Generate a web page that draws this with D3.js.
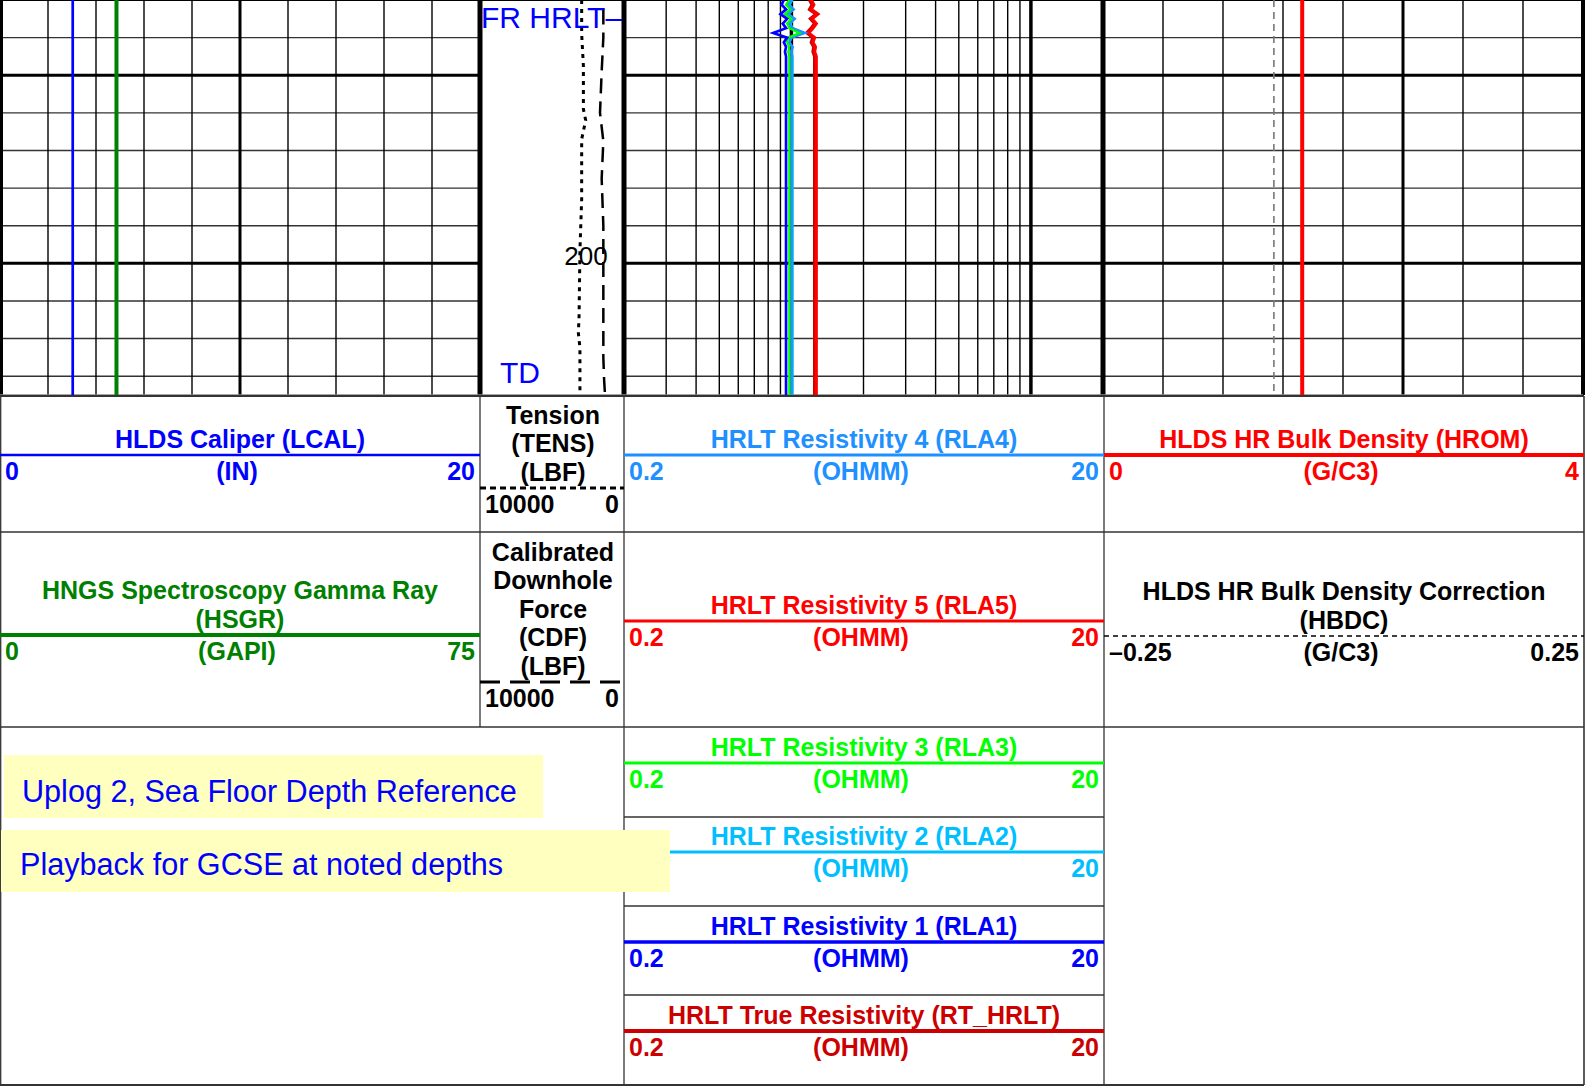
<!DOCTYPE html>
<html>
<head>
<meta charset="utf-8">
<script src="https://cdn.jsdelivr.net/npm/d3@7"></script>
<style>
  body { margin: 0; background: #fff; }
  svg { display: block; }
  text { font-family: "Liberation Sans", Arial, sans-serif; }
</style>
</head>
<body>
<svg id="chart"></svg>
<script>
// ---- data read off the log ----
// depth samples for the resistivity curves (m)
const resDepth = [186, 186.25, 186.5, 186.75, 187, 187.25, 187.5, 187.75, 188, 188.25, 188.5, 188.75, 189, 207];
const rla1 = [0.93, 0.91, 0.95, 0.90, 0.96, 0.92, 0.95, 0.84, 0.96, 0.93, 0.95, 0.94, 0.95, 0.95];
const rla2 = [1.01, 0.98, 1.02, 0.97, 1.03, 0.99, 1.01, 1.12, 1.00, 0.98, 1.01, 1.00, 1.01, 1.01];
const rla3 = [0.98, 0.95, 0.99, 0.94, 1.00, 0.96, 0.98, 1.08, 0.97, 0.96, 0.98, 0.97, 0.98, 0.98];
const rla4 = [1.00, 0.96, 1.02, 0.95, 1.03, 0.97, 1.01, 1.14, 1.00, 0.98, 1.01, 1.00, 1.00, 1.00];
const rla5 = [1.21, 1.24, 1.21, 1.29, 1.22, 1.27, 1.23, 1.18, 1.25, 1.23, 1.26, 1.25, 1.27, 1.27];
const rtHrlt = [1.19, 1.22, 1.19, 1.27, 1.20, 1.25, 1.21, 1.16, 1.23, 1.21, 1.24, 1.23, 1.25, 1.25];

const tensDepth = [186, 187.8, 189.5, 191.8, 192.4, 193.4, 196.6, 199.3, 202.8, 203.7, 204.5, 207];
const tensValues = [2940, 2940, 2820, 2820, 2660, 2940, 2940, 3060, 3120, 3170, 3060, 3060];
const cdfDepth = [186.5, 188.0, 189.8, 192.0, 193.5, 195.5, 198.0, 201.0, 205.0, 206.2, 207];
const cdfValues = [1435, 1435, 1550, 1667, 1435, 1550, 1435, 1435, 1435, 1380, 1319];

const flatDepth = [186, 207];
const lcalValues = [3.03, 3.03];
const hsgrValues = [18.2, 18.2];
const hromValues = [1.66, 1.66];
const hbdcValues = [-0.072, -0.072];

const depthLabels = [200];
const markerText = ["FR HRLT\u2013", "TD"];
const markerDepth = [187.5, 206.35];

const notes = ["Uplog 2, Sea Floor Depth Reference", "Playback for GCSE at noted depths"];

// header entries: title lines, unit, left / right scale labels
const headTitles = [
  ["HLDS Caliper (LCAL)"], ["Tension", "(TENS)", "(LBF)"], ["HRLT Resistivity 4 (RLA4)"], ["HLDS HR Bulk Density (HROM)"],
  ["HNGS Spectroscopy Gamma Ray", "(HSGR)"], ["Calibrated", "Downhole", "Force", "(CDF)", "(LBF)"], ["HRLT Resistivity 5 (RLA5)"], ["HLDS HR Bulk Density Correction", "(HBDC)"],
  ["HRLT Resistivity 3 (RLA3)"], ["HRLT Resistivity 2 (RLA2)"], ["HRLT Resistivity 1 (RLA1)"], ["HRLT True Resistivity (RT_HRLT)"]
];
const headUnits = ["(IN)", "", "(OHMM)", "(G/C3)", "(GAPI)", "", "(OHMM)", "(G/C3)", "(OHMM)", "(OHMM)", "(OHMM)", "(OHMM)"];
const headLo = ["0", "10000", "0.2", "0", "0", "10000", "0.2", "\u20130.25", "0.2", "0.2", "0.2", "0.2"];
const headHi = ["20", "0", "20", "4", "75", "0", "20", "0.25", "20", "20", "20", "20"];

// ---- layout ----
const W = 1596, H = 1088;
const logBottom = 395;

const svg = d3.select("#chart").attr("width", W).attr("height", H);

const depth = d3.scaleLinear().domain([186, 207]).range([0, logBottom]);
const xCal = d3.scaleLinear().domain([0, 20]).range([0, 480]);
const xGr = d3.scaleLinear().domain([0, 75]).range([0, 480]);
const xTens = d3.scaleLinear().domain([10000, 0]).range([480, 624]);
const xRes = d3.scaleLog().domain([0.2, 20]).range([624, 1103]);
const xRhob = d3.scaleLinear().domain([0, 4]).range([1103, 1583]);
const xHbdc = d3.scaleLinear().domain([-0.25, 0.25]).range([1103, 1583]);

const colors = {
  lcal: "#0000ff", hsgr: "#008000", rla4: "#1e90ff", rla5: "#ff0000", rla3: "#00ff00",
  rla2: "#00bfff", rla1: "#0000ff", rt: "#cc0000", hrom: "#ff0000"
};

const grid = svg.append("g");

// horizontal depth lines, every 2 m, heavy every 10 m
const hDepths = d3.range(188, 207, 2);
[[0, 480], [624, 1103], [1103, 1583]].forEach(function(r) {
  grid.selectAll(null).data(hDepths).enter().append("line")
    .attr("x1", r[0]).attr("x2", r[1])
    .attr("y1", d => depth(d)).attr("y2", d => depth(d))
    .attr("stroke", d => d % 10 === 0 ? "#000" : "#333")
    .attr("stroke-width", d => d % 10 === 0 ? 3 : 1.4);
});

// linear track verticals
function linearGrid(scale) {
  const t = scale.ticks(10);
  grid.selectAll(null).data(t.slice(1, -1)).enter().append("line")
    .attr("x1", d => scale(d)).attr("x2", d => scale(d))
    .attr("y1", 0).attr("y2", logBottom)
    .attr("stroke", "#000")
    .attr("stroke-width", (d, i) => i === 4 ? 3 : 1.4);
}
linearGrid(xCal);
linearGrid(xRhob);

// log track verticals
const resTicks = xRes.ticks().filter(d => d > 0.2 && d < 20);
grid.selectAll(null).data(resTicks).enter().append("line")
  .attr("x1", d => xRes(d)).attr("x2", d => xRes(d))
  .attr("y1", 0).attr("y2", logBottom)
  .attr("stroke", "#000")
  .attr("stroke-width", d => Math.abs(Math.log10(d) - Math.round(Math.log10(d))) < 1e-6 ? 3.5 : 1.4);

// track borders
[[1.5, 3], [480, 5], [624, 5], [1103, 5], [1583, 4]].forEach(function(b) {
  grid.append("line").attr("x1", b[0]).attr("x2", b[0]).attr("y1", 0).attr("y2", logBottom)
    .attr("stroke", "#000").attr("stroke-width", b[1]);
});
grid.append("line").attr("x1", 0).attr("x2", 1583).attr("y1", 0.5).attr("y2", 0.5)
  .attr("stroke", "#000").attr("stroke-width", 1);
grid.append("line").attr("x1", 0).attr("x2", 1583).attr("y1", logBottom).attr("y2", logBottom)
  .attr("stroke", "#888").attr("stroke-width", 1.5);

// ---- curves ----
const curves = svg.append("g");
function drawCurve(depths, values, xs, color, width, dash) {
  const pts = depths.map((d, i) => [xs(values[i]), depth(d)]);
  curves.append("path")
    .attr("d", d3.line()(pts))
    .attr("fill", "none")
    .attr("stroke", color)
    .attr("stroke-width", width)
    .attr("stroke-dasharray", dash || null)
    .attr("stroke-linejoin", "miter");
}
drawCurve(flatDepth, lcalValues, xCal, colors.lcal, 2.7);
drawCurve(flatDepth, hsgrValues, xGr, colors.hsgr, 4);
drawCurve(flatDepth, hbdcValues, xHbdc, "#777", 1.6, "7,5");
drawCurve(flatDepth, hromValues, xRhob, colors.hrom, 4);
drawCurve(tensDepth, tensValues, xTens, "#000", 3, "4,5");
drawCurve(cdfDepth, cdfValues, xTens, "#000", 2.5, "15,8");
drawCurve(resDepth, rtHrlt, xRes, colors.rt, 3.2);
drawCurve(resDepth, rla5, xRes, colors.rla5, 3.2);
drawCurve(resDepth, rla2, xRes, colors.rla2, 2.5);
drawCurve(resDepth, rla4, xRes, colors.rla4, 2.5);
drawCurve(resDepth, rla3, xRes, colors.rla3, 2.2);
drawCurve(resDepth, rla1, xRes, colors.rla1, 2.7);

// depth labels and markers
svg.append("g").selectAll(null).data(depthLabels).enter().append("text")
  .attr("x", 586).attr("y", d => depth(d) + 2)
  .attr("text-anchor", "middle")
  .style("font-size", "26px").attr("fill", "#000")
  .text(d => d);

svg.append("g").selectAll(null).data(markerText).enter().append("text")
  .attr("x", (d, i) => i === 0 ? 481 : 500)
  .attr("y", (d, i) => depth(markerDepth[i]))
  .style("font-size", "30px").attr("fill", "#0000ff")
  .text(d => d);

// ---- header ----
const head = svg.append("g");
const hs = "25px";

const frameCol = "#333";
function hline(x1, x2, y, w) {
  head.append("line").attr("x1", x1).attr("x2", x2).attr("y1", y).attr("y2", y)
    .attr("stroke", frameCol).attr("stroke-width", w || 1.3);
}
function vline(x, y1, y2, w) {
  head.append("line").attr("x1", x).attr("x2", x).attr("y1", y1).attr("y2", y2)
    .attr("stroke", frameCol).attr("stroke-width", w || 1.3);
}
hline(0, 1584, 396, 2);
hline(0, 1584, 532);
hline(0, 1584, 727);
hline(0, 1584, 1085, 2);
hline(624, 1104, 817, 1.6);
hline(624, 1104, 906, 1.6);
hline(624, 1104, 995, 1.6);
vline(0.7, 396, 1085);
vline(480, 396, 727);
vline(624, 396, 1085);
vline(1104, 396, 1085);
vline(1584, 396, 1085, 1.6);

// column spans and scale line y for each header entry
const cellX = [[0, 480], [480, 624], [624, 1104], [1104, 1584],
               [0, 480], [480, 624], [624, 1104], [1104, 1584],
               [624, 1104], [624, 1104], [624, 1104], [624, 1104]];
const cellLineY = [455, 488, 455, 455, 635, 682, 621, 636, 763, 852, 942, 1031];
const cellColor = [colors.lcal, "#000", colors.rla4, colors.hrom, colors.hsgr, "#000", colors.rla5, "#000",
                   colors.rla3, colors.rla2, colors.rla1, colors.rt];
const cellStroke = [2.7, 3, 3, 4, 4, 3, 3, 1.3, 3, 3, 3.5, 4];
const cellDash = [null, "6,4", null, null, null, "20,10", null, "5,4", null, null, null, null];

headTitles.forEach(function(lines, i) {
  const x0 = cellX[i][0], x1 = cellX[i][1], yl = cellLineY[i];
  const cx = (x0 + x1) / 2;
  const g = head.append("g").attr("fill", cellColor[i])
    .style("font-size", hs).style("font-weight", "bold");
  const n = lines.length;
  g.selectAll(null).data(lines).enter().append("text")
    .attr("x", cx + (i === 1 || i === 5 ? 1 : 0))
    .attr("y", (d, k) => yl - 7 - (n - 1 - k) * 28.6)
    .attr("text-anchor", "middle")
    .text(d => d);
  head.append("line")
    .attr("x1", x0).attr("x2", x1).attr("y1", yl).attr("y2", yl)
    .attr("stroke", cellColor[i]).attr("stroke-width", cellStroke[i])
    .attr("stroke-dasharray", cellDash[i]);
  g.append("text").attr("x", x0 + 5).attr("y", yl + 25).text(headLo[i]);
  g.append("text").attr("x", x1 - 5).attr("y", yl + 25).attr("text-anchor", "end").text(headHi[i]);
  if (headUnits[i]) {
    g.append("text").attr("x", cx - (x1 - x0 > 400 ? 3 : 0)).attr("y", yl + 25)
      .attr("text-anchor", "middle").text(headUnits[i]);
  }
});

// yellow note boxes
const noteBox = [[4, 755, 539, 63], [1, 830, 669, 62]];
const notesG = svg.append("g");
notes.forEach(function(t, i) {
  const b = noteBox[i];
  notesG.append("rect").attr("x", b[0]).attr("y", b[1]).attr("width", b[2]).attr("height", b[3])
    .attr("fill", "#ffffc0");
  notesG.append("text").attr("x", i === 0 ? 22 : 20).attr("y", i === 0 ? 802 : 875)
    .style("font-size", "30.6px").attr("fill", "#0000ff").text(t);
});
</script>
</body>
</html>
